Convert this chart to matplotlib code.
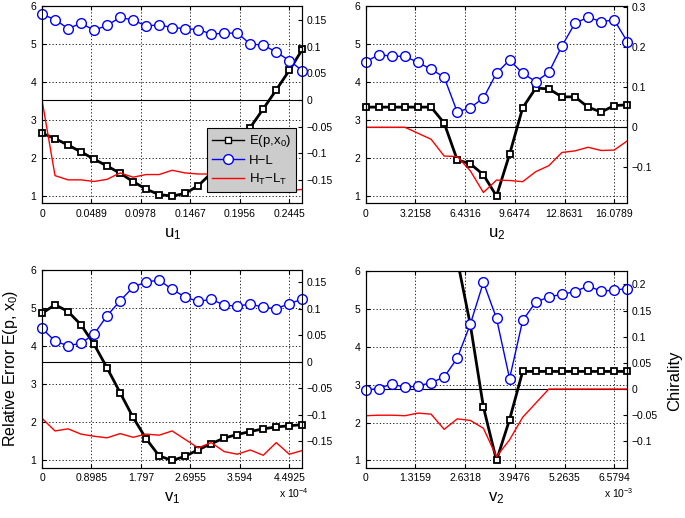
import matplotlib
matplotlib.use("Agg")
import matplotlib.pyplot as plt
import numpy as np

plt.rcParams["font.family"] = ["Liberation Sans", "DejaVu Sans"]
plt.rcParams["mathtext.fontset"] = "custom"
plt.rcParams["mathtext.rm"] = "Liberation Sans"
plt.rcParams["mathtext.it"] = "Liberation Sans"

# ── data (21 samples per parameter sweep) ────────────────────────────────────
U1_MAX = 0.2574
U1_TICKS = [0, 0.0489, 0.0978, 0.1467, 0.1956, 0.2445]
U1_E = [2.65, 2.51, 2.34, 2.16, 1.97, 1.79, 1.60, 1.38, 1.18, 1.04, 1.00,
        1.07, 1.27, 1.60, 1.95, 2.35, 2.80, 3.29, 3.79, 4.30, 4.85]
U1_HL = [0.161, 0.151, 0.134, 0.144, 0.131, 0.140, 0.155, 0.150, 0.139, 0.141, 0.136,
         0.134, 0.132, 0.124, 0.125, 0.126, 0.105, 0.103, 0.090, 0.074, 0.055]
U1_HT = [0.0, -0.142, -0.150, -0.150, -0.153, -0.149, -0.137, -0.145, -0.140, -0.140, -0.132,
         -0.137, -0.139, -0.139, -0.141, -0.150, -0.155, -0.160, -0.165, -0.170, -0.168]

U2_MAX = 16.925
U2_TICKS = [0, 3.2158, 6.4316, 9.6474, 12.8631, 16.0789]
U2_E = [3.34, 3.34, 3.34, 3.34, 3.34, 3.34, 2.92, 1.95, 1.85, 1.56, 1.00,
        2.10, 3.32, 3.84, 3.82, 3.61, 3.61, 3.34, 3.21, 3.38, 3.40]
U2_HL = [0.164, 0.181, 0.178, 0.177, 0.162, 0.145, 0.125, 0.038, 0.049, 0.073, 0.135,
         0.168, 0.135, 0.114, 0.137, 0.203, 0.260, 0.275, 0.264, 0.268, 0.214]
U2_HT = [0.0, 0.0, 0.0, 0.0, -0.015, -0.030, -0.072, -0.073, -0.109, -0.163, -0.132,
         -0.133, -0.136, -0.111, -0.096, -0.063, -0.059, -0.050, -0.058, -0.057, -0.034]

V1_MAX = 4.729          # x 1e-4
V1_TICKS = [0, 0.8985, 1.797, 2.6955, 3.594, 4.4925]
V1_E = [4.86, 5.09, 4.91, 4.56, 4.05, 3.43, 2.78, 2.13, 1.57, 1.12, 1.00,
        1.11, 1.28, 1.44, 1.59, 1.68, 1.76, 1.83, 1.88, 1.91, 1.94]
V1_HL = [0.063, 0.039, 0.030, 0.035, 0.052, 0.087, 0.115, 0.141, 0.151, 0.154, 0.137,
         0.122, 0.114, 0.118, 0.107, 0.105, 0.109, 0.103, 0.100, 0.110, 0.118]
V1_HT = [-0.107, -0.131, -0.127, -0.137, -0.141, -0.144, -0.136, -0.143, -0.137, -0.139, -0.131,
         -0.147, -0.163, -0.153, -0.170, -0.175, -0.167, -0.177, -0.153, -0.175, -0.168]

V2_MAX = 6.926          # x 1e-3
V2_TICKS = [0, 1.3159, 2.6318, 3.9476, 5.2635, 6.5794]
# first samples lie above the plotted range (> 6), only their slope is visible
V2_E = [14.0, 13.0, 12.0, 11.0, 10.0, 9.0, 7.7, 6.3, 4.58, 2.41, 1.00,
        2.08, 3.35, 3.35, 3.35, 3.35, 3.35, 3.35, 3.35, 3.35, 3.35]
V2_HL = [-0.002, 0.001, 0.010, 0.003, 0.006, 0.012, 0.023, 0.059, 0.124, 0.204, 0.135,
         0.020, 0.131, 0.166, 0.176, 0.181, 0.186, 0.197, 0.187, 0.189, 0.192]
V2_HT = [-0.051, -0.050, -0.050, -0.051, -0.046, -0.048, -0.077, -0.057, -0.060, -0.075, -0.129,
         -0.097, -0.054, -0.027, 0.0, 0.0, 0.0, 0.0, 0.0, 0.0, 0.0]

W, H = 685, 518
YLIM_L = (0.81, 6)


def rect(left, top, right, bottom):
    return [left / W, 1 - bottom / H, (right - left) / W, (bottom - top) / H]


def fmt(v):
    s = f"{v:g}"
    return s.replace("-", "\u2212")


fig = plt.figure(figsize=(6.85, 5.18), dpi=100)


def draw_panel(r, xmax, xticks, e, hl, ht, ylim_r, rticks, xlabel, mult=None):
    ax = fig.add_axes(r)
    x = np.linspace(0, xmax, len(e))
    e = np.asarray(e, dtype=float)

    ax.plot(x, e, color="k", lw=2)
    e_in = np.where(e <= YLIM_L[1], e, np.nan)
    ax.plot(x, e_in, ls="none", marker="s", ms=5, mfc="w", mec="k", mew=1.3,
            clip_on=False)
    ax.set_xlim(0, xmax)
    ax.set_ylim(*YLIM_L)
    ax.set_yticks([1, 2, 3, 4, 5, 6])
    ax.set_xticks(xticks)
    ax.set_xticklabels([fmt(t) for t in xticks])
    ax.grid(True, color="k", linestyle=(0, (1.5, 2.5)), lw=0.6)
    ax.tick_params(direction="in", length=3, labelsize=7.5, pad=4, top=True)
    ax.set_xlabel(xlabel, fontsize=12, labelpad=5)
    for sp in ax.spines.values():
        sp.set_linewidth(0.8)

    ax2 = ax.twinx()
    ax2.axhline(0, color="k", lw=0.8)
    l_ht, = ax2.plot(x, ht, color="r", lw=1)
    l_hl, = ax2.plot(x, hl, color="b", lw=1, marker="o", ms=7, mfc="w", mec="b",
                     mew=1, clip_on=False)
    ax2.set_ylim(*ylim_r)
    ax2.set_yticks(rticks)
    ax2.set_yticklabels([fmt(t) for t in rticks])
    ax2.tick_params(direction="in", length=3, labelsize=7.5, pad=3)
    for sp in ax2.spines.values():
        sp.set_linewidth(0.8)

    if mult:
        ax.text(1.025, -0.128, mult, transform=ax.transAxes, ha="right",
                va="center", fontsize=7.5)
    return ax, ax2, l_hl, l_ht


ax1, ax1r, l_hl, l_ht = draw_panel(rect(42, 5.7, 302.3, 203.3), U1_MAX, U1_TICKS,
                                   U1_E, U1_HL, U1_HT, (-0.194, 0.177),
                                   [-0.15, -0.1, -0.05, 0, 0.05, 0.1, 0.15], "u$_1$")
draw_panel(rect(365.7, 6, 627.3, 203.3), U2_MAX, U2_TICKS, U2_E, U2_HL, U2_HT,
           (-0.19, 0.303), [-0.1, 0, 0.1, 0.2, 0.3], "u$_2$")
ax3, _, _, _ = draw_panel(rect(42, 270, 302.3, 467.7), V1_MAX, V1_TICKS, V1_E, V1_HL, V1_HT,
                          (-0.2005, 0.1734), [-0.15, -0.1, -0.05, 0, 0.05, 0.1, 0.15],
                          "v$_1$", "x 10$^{-4}$")
draw_panel(rect(365.7, 271, 627.3, 467.7), V2_MAX, V2_TICKS, V2_E, V2_HL, V2_HT,
           (-0.1503, 0.2255), [-0.1, -0.05, 0, 0.05, 0.1, 0.15, 0.2],
           "v$_2$", "x 10$^{-3}$")

ax3.set_ylabel("Relative Error E(p, x$_0$)", fontsize=11.5)
ax3.yaxis.set_label_coords(-0.085, 0.5)
fig.text(675 / W, 1 - 381 / H, "Chirality", rotation=90, ha="center", va="center",
         fontsize=12)

# legend in the first panel
e_handle, = ax1r.plot([], [], color="k", lw=1, marker="s", ms=5, mfc="w", mec="k", mew=1)
leg = ax1r.legend([e_handle, l_hl, l_ht],
                  ["E(p,x$_0$)", "H\u2212L", "H$_\\mathrm{T}$\u2212L$_\\mathrm{T}$"],
                  loc="upper left", bbox_to_anchor=(206.7 / W, 1 - 128 / H),
                  bbox_transform=fig.transFigure, fontsize=9.5, frameon=True,
                  fancybox=False, framealpha=1, facecolor="#cccccc", edgecolor="k",
                  handlelength=2.4, handletextpad=0.4, labelspacing=0.4,
                  borderpad=0.4, borderaxespad=0)
leg.get_frame().set_linewidth(0.8)

fig.savefig("out.png", dpi=100)
